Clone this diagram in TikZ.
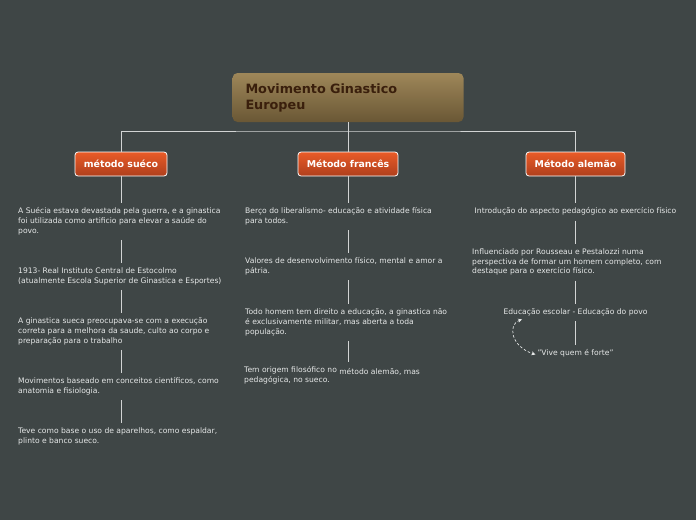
\documentclass[tikz,border=0pt]{standalone}
\usepackage{fontspec}
\setmainfont{DejaVu Sans}
\usetikzlibrary{arrows.meta}
\definecolor{bg}{HTML}{3F4646}
\definecolor{connc}{HTML}{D2D4D4}
\definecolor{txtc}{HTML}{E6E8E8}
\definecolor{roottop}{HTML}{9E8759}
\definecolor{rootbot}{HTML}{6A5735}
\definecolor{roottxt}{HTML}{3A1F0C}
\definecolor{chtop}{HTML}{E95B28}
\definecolor{chbot}{HTML}{AF3F1C}
\tikzset{
  rootbox/.style={rounded corners=5pt, top color=roottop, bottom color=rootbot, draw=none,
    minimum width=231pt, minimum height=49pt, text width=205pt, inner xsep=13pt, align=left,
    font=\fontsize{12.8}{16}\selectfont\bfseries, text=roottxt},
  childbox/.style={rounded corners=3pt, top color=chtop, bottom color=chbot, draw=white, line width=0.8pt,
    minimum height=24pt, inner xsep=6pt, font=\fontsize{9.4}{11}\selectfont\bfseries, text=white},
  txt/.style={font=\fontsize{7.6}{9.7}\selectfont, text=txtc, align=left, inner xsep=0pt, inner ysep=5pt},
  conn/.style={draw=connc, line width=0.8pt},
}
\begin{document}
\begin{tikzpicture}[x=1pt,y=-1pt]
\fill[bg] (0,0) rectangle (696,520);
\useasboundingbox (0,0) rectangle (696,520);

\node[rootbox] (root) at (348,97.5) {Movimento Ginastico\\Europeu};
\node[childbox, minimum width=92pt] (chA) at (121,164) {método suéco};
\node[childbox, minimum width=100pt] (chB) at (348,164) {Método francês};
\node[childbox, minimum width=99pt] (chC) at (575.5,164) {Método alemão};

\coordinate (j) at (348,131);
\draw[conn] (root.south) -- (j);
\draw[conn] (chA.north) |- (j) -| (chC.north);
\draw[conn] (chB.north) -- (j);

% left column
\node[txt, anchor=north west] (a1) at (18,202.5) {A Suécia estava devastada pela guerra, e a ginastica\\foi utilizada como artificio para elevar a saúde do\\povo.};
\node[txt, anchor=north west] (a2) at (18,262.5) {1913- Real Instituto Central de Estocolmo\\(atualmente Escola Superior de Ginastica e Esportes)};
\node[txt, anchor=north west] (a3) at (18,312.5) {A ginastica sueca preocupava-se com a execução\\correta para a melhora da saude, culto ao corpo e\\preparação para o trabalho};
\node[txt, anchor=north west] (a4) at (18,372.5) {Movimentos baseado em conceitos científicos, como\\anatomia e fisiologia.};
\node[txt, anchor=north west] (a5) at (18,422.5) {Teve como base o uso de aparelhos, como espaldar,\\plinto e banco sueco.};
\draw[conn] (chA.south) -- (a1.north -| chA.south);
\draw[conn] (a1.south -| chA.south) -- (a2.north -| chA.south);
\draw[conn] (a2.south -| chA.south) -- (a3.north -| chA.south);
\draw[conn] (a3.south -| chA.south) -- (a4.north -| chA.south);
\draw[conn] (a4.south -| chA.south) -- (a5.north -| chA.south);

% middle column
\node[txt, anchor=north west] (b1) at (245,202.5) {Berço do liberalismo- educação e atividade física\\para todos.};
\node[txt, anchor=north west] (b2) at (245,252.5) {Valores de desenvolvimento físico, mental e amor a\\pátria.};
\node[txt, anchor=north west] (b3) at (245,303.5) {Todo homem tem direito a educação, a ginastica não\\é exclusivamente militar, mas aberta a toda\\população.};
\node[txt, anchor=north west] (b4) at (244,361.5) {Tem origem filosófico no \raisebox{-1.5pt}{método alemão, mas}\\pedagógica, no sueco.};
\draw[conn] (chB.south) -- (b1.north -| chB.south);
\draw[conn] (b1.south -| chB.south) -- (b2.north -| chB.south);
\draw[conn] (b2.south -| chB.south) -- (b3.north -| chB.south);
\draw[conn] (b3.south -| chB.south) -- (b4.north -| chB.south);

% right column
\node[txt, anchor=north] (c1) at (575.5,202.5) {Introdução do aspecto pedagógico ao exercício físico};
\node[txt, anchor=north west] (c2) at (472,243.5) {Influenciado por Rousseau e Pestalozzi numa\\perspectiva de formar um homem completo, com\\destaque para o exercício físico.};
\node[txt, anchor=north] (c3) at (575.5,303.5) {Educação escolar - Educação do povo};
\node[txt, anchor=north] (c4) at (575.5,344.5) {"Vive quem é forte"};
\draw[conn] (chC.south) -- (c1.north -| chC.south);
\draw[conn] (c1.south -| chC.south) -- (c2.north -| chC.south);
\draw[conn] (c2.south -| chC.south) -- (c3.north -| chC.south);
\draw[conn] (c3.south -| chC.south) -- (c4.north -| chC.south);

\draw[draw=txtc, line width=0.7pt, dash pattern=on 2.5pt off 2pt, {Stealth[length=4pt,width=4pt]}-{Stealth[length=4pt,width=4pt]}]
  ([xshift=-2pt,yshift=2pt]c3.south west -| 524,0) .. controls (508,324) and (510,346) .. ([xshift=-2pt,yshift=-1pt]c4.west);
\end{tikzpicture}
\end{document}
